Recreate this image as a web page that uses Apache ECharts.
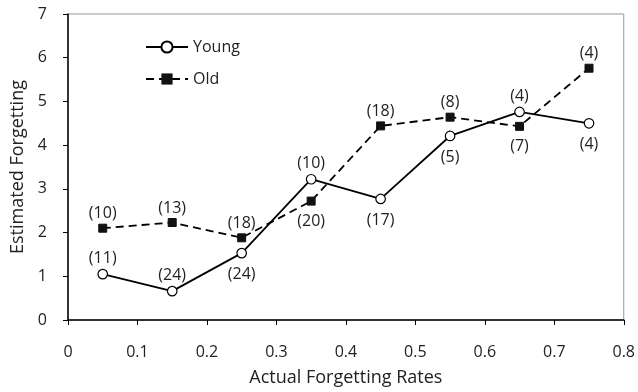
<!DOCTYPE html>
<html><head><meta charset="utf-8">
<script src="https://cdn.jsdelivr.net/npm/echarts@6/dist/echarts.min.js"></script>
<style>html,body{margin:0;padding:0;background:#fff}#c{width:638px;height:392px}</style>
</head><body><div id="c"></div>
<script>
const xValues = [0.05, 0.15, 0.25, 0.35, 0.45, 0.55, 0.65, 0.75];
const youngValues = [1.05, 0.66, 1.53, 3.22, 2.77, 4.21, 4.76, 4.50];
const oldValues = [2.10, 2.23, 1.88, 2.72, 4.44, 4.64, 4.43, 5.76];
const youngCounts = ['(11)', '(24)', '(24)', '(10)', '(17)', '(5)', '(4)', '(4)'];
const oldCounts = ['(10)', '(13)', '(18)', '(20)', '(18)', '(8)', '(7)', '(4)'];
const xTicks = [0, 0.1, 0.2, 0.3, 0.4, 0.5, 0.6, 0.7, 0.8];
const yTicks = [0, 1, 2, 3, 4, 5, 6, 7];

const youngSide = ['top','top','bottom','top','bottom','bottom','top','bottom'];
const oldSide = ['top','top','top','bottom','top','top','bottom','top'];
const FONT = '"Open Sans", sans-serif';

function build(vals, counts, sides) {
  return vals.map((v, i) => ({
    value: [xValues[i], v],
    label: { show: true, position: sides[i], formatter: counts[i],
      distance: sides[i] === 'top' ? 2 : 8,
      color: '#222', fontSize: 16, fontFamily: FONT }
  }));
}

const chart = echarts.init(document.getElementById('c'));
chart.setOption({
  animation: false,
  grid: { left: 68, right: 14, top: 14, bottom: 70, show: true, borderColor: '#999', borderWidth: 1 },
  legend: {
    orient: 'vertical', left: 140, top: 34, itemWidth: 42, itemHeight: 14, itemGap: 16,
    textStyle: { fontSize: 16, lineHeight: 16, fontFamily: FONT, color: '#222' },
    data: ['Young', 'Old']
  },
  xAxis: {
    type: 'value', min: xTicks[0], max: xTicks[xTicks.length - 1], interval: 0.1,
    name: 'Actual Forgetting Rates', nameLocation: 'middle', nameGap: 49,
    nameTextStyle: { fontSize: 18, fontFamily: FONT, color: '#222' },
    axisLine: { show: true, lineStyle: { color: '#000', width: 1.5 } },
    axisTick: { show: true, length: 5, lineStyle: { color: '#000' } },
    axisLabel: { fontSize: 16, fontFamily: FONT, color: '#222', margin: 24,
      formatter: v => String(Math.round(v * 10) / 10) },
    splitLine: { show: false }
  },
  yAxis: {
    type: 'value', min: yTicks[0], max: yTicks[yTicks.length - 1], interval: 1,
    name: 'Estimated Forgetting', nameLocation: 'middle', nameGap: 41,
    nameTextStyle: { fontSize: 18, fontFamily: FONT, color: '#222' },
    axisLine: { show: true, lineStyle: { color: '#000', width: 1.5 } },
    axisTick: { show: true, length: 5, lineStyle: { color: '#000' } },
    axisLabel: { fontSize: 16, fontFamily: FONT, color: '#222', margin: 21 },
    splitLine: { show: false }
  },
  series: [
    {
      name: 'Young', type: 'line', data: build(youngValues, youngCounts, youngSide),
      symbol: 'circle', symbolSize: 9.5, z: 3,
      lineStyle: { color: '#000', width: 1.8 },
      itemStyle: { color: '#fff', borderColor: '#000', borderWidth: 1.2 }
    },
    {
      name: 'Old', type: 'line', data: build(oldValues, oldCounts, oldSide),
      symbol: 'rect', symbolSize: 8, z: 2,
      lineStyle: { color: '#000', width: 1.8, type: [8, 5] },
      itemStyle: { color: '#111', borderColor: '#111' }
    }
  ]
});
</script></body></html>
